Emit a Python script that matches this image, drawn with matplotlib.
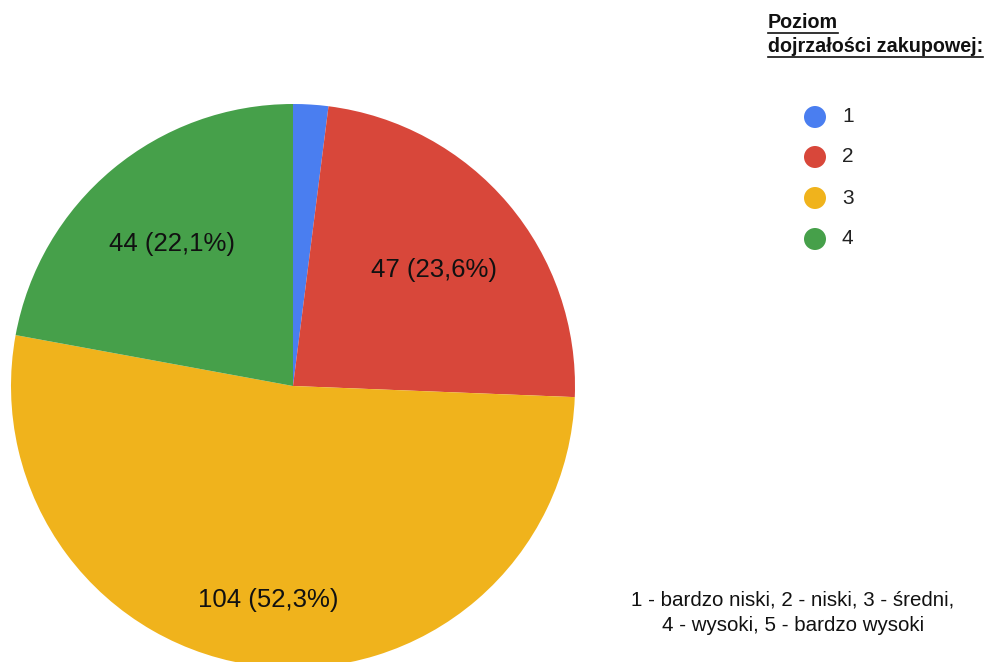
import matplotlib.pyplot as plt
from matplotlib.patches import Circle

# data
categories = ["1", "2", "3", "4"]
values = [4, 47, 104, 44]
slice_labels = ["", "47 (23,6%)", "104 (52,3%)", "44 (22,1%)"]
colors = ["#4a7ef0", "#d8473a", "#f0b31c", "#46a04a"]

legend_title = ["Poziom", "dojrzałości zakupowej:"]
footnote = "1 - bardzo niski, 2 - niski, 3 - średni,\n4 - wysoki, 5 - bardzo wysoki"

plt.rcParams['font.family'] = ['Liberation Sans', 'DejaVu Sans']

W, H = 984, 662
fig = plt.figure(figsize=(W / 100, H / 100), dpi=100)
ax = fig.add_axes([0, 0, 1, 1])

# pie, clockwise from 12 o'clock
cx, cy, r = 293, H - 386, 282
wedges, _ = ax.pie(values, colors=colors, startangle=90, counterclock=False,
                   center=(cx, cy), radius=r, frame=True,
                   wedgeprops=dict(linewidth=0))
ax.set_xlim(0, W)
ax.set_ylim(0, H)
ax.set_aspect('equal')
ax.set_axis_off()

# slice labels
label_pos = [None, (434, H - 270), (268, H - 600), (172, H - 244)]
for lbl, pos in zip(slice_labels, label_pos):
    if lbl:
        ax.text(pos[0], pos[1], lbl, fontsize=18.5, color="#111111",
                ha='center', va='center')

# legend title, underlined
title_y = [H - 23, H - 47]
fig.canvas.draw()
renderer = fig.canvas.get_renderer()
for line, y in zip(legend_title, title_y):
    t = ax.text(768, y, line, fontsize=14.2, fontweight='bold', color="#111111",
                ha='left', va='center')
    bb = t.get_window_extent(renderer=renderer)
    ax.plot([bb.x0, bb.x1], [y - 10, y - 10], color="#111111", lw=1.2)

# legend entries
leg_y = [117, 157, 198, 239]
for cat, col, y in zip(categories, colors, leg_y):
    ax.add_patch(Circle((815, H - y), 11, color=col, lw=0))
    ax.text(842, H - y, cat, fontsize=15, color="#222222", ha='left', va='center')

# footnote
ax.text(793, H - 613, footnote, fontsize=14.8, color="#111111",
        ha='center', va='center', linespacing=1.4)

fig.savefig("out.png", dpi=100)
